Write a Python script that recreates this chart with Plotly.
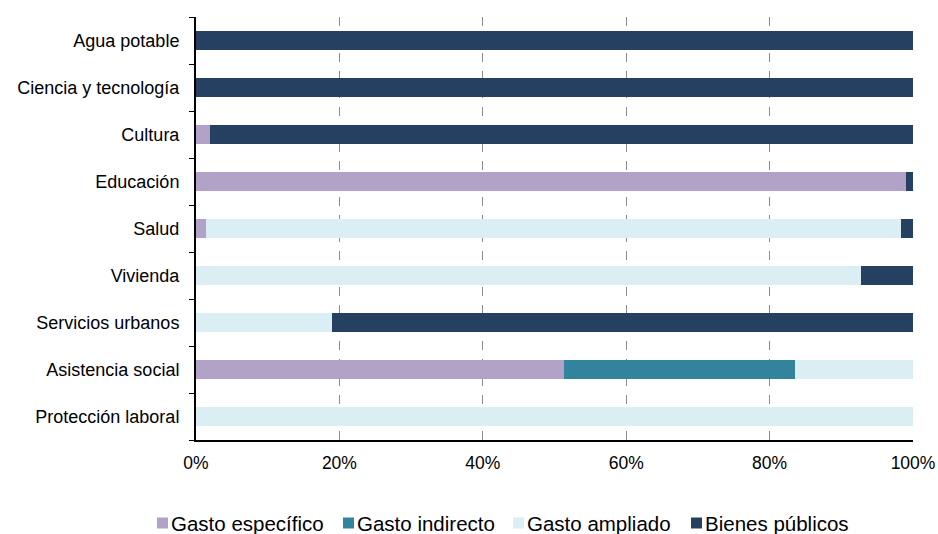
import plotly.graph_objects as go

# Categories listed from bottom to top of the chart
categories = [
    "Protección laboral",
    "Asistencia social",
    "Servicios urbanos",
    "Vivienda",
    "Salud",
    "Educación",
    "Cultura",
    "Ciencia y tecnología",
    "Agua potable",
]

# Share of spending (percent) by type, same order as categories
gasto_especifico = [0.0, 51.3, 0.0, 0.0, 1.4, 99.0, 2.0, 0.0, 0.0]
gasto_indirecto = [0.0, 32.2, 0.0, 0.0, 0.0, 0.0, 0.0, 0.0, 0.0]
gasto_ampliado = [100.0, 16.5, 19.0, 92.7, 96.9, 0.0, 0.0, 0.0, 0.0]
bienes_publicos = [0.0, 0.0, 81.0, 7.3, 1.7, 1.0, 98.0, 100.0, 100.0]

tick_vals = [0, 20, 40, 60, 80, 100]
tick_text = ["0%", "20%", "40%", "60%", "80%", "100%"]

series_names = ["Gasto específico", "Gasto indirecto", "Gasto ampliado", "Bienes públicos"]
series_values = [gasto_especifico, gasto_indirecto, gasto_ampliado, bienes_publicos]
series_colors = ["#B3A2C7", "#31849B", "#DBEEF4", "#254061"]

font_family = "Arial, Liberation Sans, sans-serif"

# Figure geometry (pixels)
W, H = 938, 534
M_L, M_R, M_T, M_B = 196, 25, 17, 94
plot_w = W - M_L - M_R
plot_h = H - M_T - M_B

fig = go.Figure()
for name, values, color in zip(series_names, series_values, series_colors):
    fig.add_trace(go.Bar(
        y=categories,
        x=values,
        name=name,
        orientation="h",
        marker=dict(color=color, line=dict(width=0)),
        width=0.4,
        hoverinfo="x+y+name",
        showlegend=False,
    ))

# Single-row key beneath the chart: a coloured square followed by its label
key_left_px = [157, 343, 513, 691]
key_center_y_px = 523
key_square = 11


def px_to_paper_x(px):
    return (px - M_L) / plot_w


def px_to_paper_y(py):
    return (H - M_B - py) / plot_h


shapes = []
annotations = []
for name, color, left in zip(series_names, series_colors, key_left_px):
    shapes.append(dict(
        type="rect",
        xref="paper", yref="paper",
        x0=px_to_paper_x(left),
        x1=px_to_paper_x(left + key_square),
        y0=px_to_paper_y(key_center_y_px + key_square / 2),
        y1=px_to_paper_y(key_center_y_px - key_square / 2),
        fillcolor=color,
        line=dict(width=0),
        layer="above",
    ))
    annotations.append(dict(
        text=name,
        xref="paper", yref="paper",
        x=px_to_paper_x(left + key_square + 1),
        y=px_to_paper_y(key_center_y_px),
        xanchor="left",
        yanchor="middle",
        showarrow=False,
        font=dict(size=20.5, family=font_family, color="#000000"),
    ))

fig.update_layout(
    barmode="stack",
    width=W,
    height=H,
    margin=dict(l=M_L, r=M_R, t=M_T, b=M_B, autoexpand=False),
    paper_bgcolor="white",
    plot_bgcolor="white",
    font=dict(family=font_family, size=17, color="#000000"),
    showlegend=False,
    shapes=shapes,
    annotations=annotations,
    xaxis=dict(
        range=[0, 100],
        tickvals=tick_vals,
        ticktext=tick_text,
        showgrid=True,
        gridcolor="#8C8C8C",
        griddash="dash",
        gridwidth=1.3,
        showline=True,
        linecolor="#000000",
        linewidth=2,
        ticks="",
        ticklabelstandoff=6,
        tickfont=dict(size=17.5),
        zeroline=False,
        fixedrange=True,
    ),
    yaxis=dict(
        categoryorder="array",
        categoryarray=categories,
        showline=True,
        linecolor="#000000",
        linewidth=2,
        ticks="outside",
        tickson="boundaries",
        ticklen=5,
        tickcolor="#000000",
        ticklabelstandoff=11,
        tickfont=dict(size=18),
        showgrid=False,
        fixedrange=True,
    ),
)

fig.write_html("out.html")
